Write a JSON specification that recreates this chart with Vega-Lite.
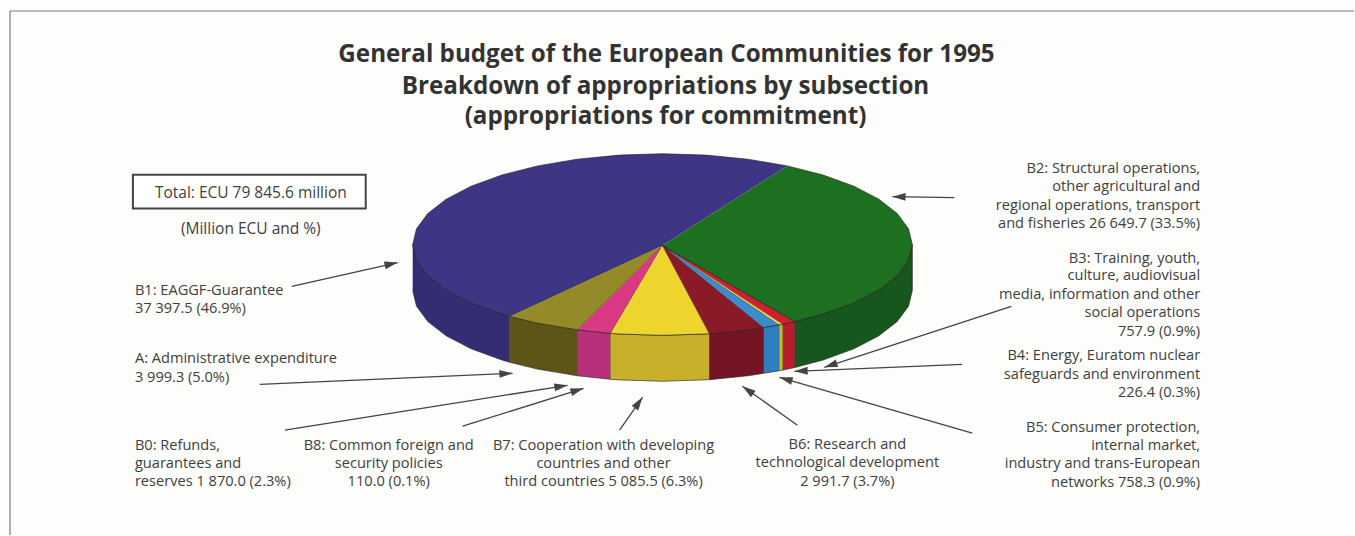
{"$schema":"https://vega.github.io/schema/vega-lite/v6.json","autosize":{"type":"fit","contains":"padding"},"width":1355,"height":536,"padding":0,"background":"#fdfdfc","view":{"stroke":null},
"datasets":{"pie":[
{"p":"B1 side","o":1,"x":413,"y":245},{"p":"B1 side","o":2,"x":416.8,"y":260.8},{"p":"B1 side","o":3,"x":428.1,"y":276.1},{"p":"B1 side","o":4,"x":446.5,"y":290.5},{"p":"B1 side","o":5,"x":471.5,"y":303.5},{"p":"B1 side","o":6,"x":502.3,"y":314.7},{"p":"B1 side","o":7,"x":510,"y":317},{"p":"B1 side","o":8,"x":510,"y":363},{"p":"B1 side","o":9,"x":502.3,"y":360.7},{"p":"B1 side","o":10,"x":471.5,"y":349.5},{"p":"B1 side","o":11,"x":446.5,"y":336.5},{"p":"B1 side","o":12,"x":428.1,"y":322.1},{"p":"B1 side","o":13,"x":416.8,"y":306.8},{"p":"B1 side","o":14,"x":413,"y":291},
{"p":"A side","o":1,"x":510,"y":317},{"p":"A side","o":2,"x":538,"y":323.8},{"p":"A side","o":3,"x":578,"y":330.5},{"p":"A side","o":4,"x":578,"y":376.5},{"p":"A side","o":5,"x":538,"y":369.8},{"p":"A side","o":6,"x":510,"y":363},
{"p":"B0 side","o":1,"x":578,"y":330.5},{"p":"B0 side","o":2,"x":611,"y":334},{"p":"B0 side","o":3,"x":611,"y":380},{"p":"B0 side","o":4,"x":578,"y":376.5},
{"p":"B7 side","o":1,"x":611,"y":334},{"p":"B7 side","o":2,"x":619.6,"y":334.6},{"p":"B7 side","o":3,"x":663,"y":336},{"p":"B7 side","o":4,"x":710,"y":334.4},{"p":"B7 side","o":5,"x":710,"y":380.4},{"p":"B7 side","o":6,"x":663,"y":382},{"p":"B7 side","o":7,"x":619.6,"y":380.6},{"p":"B7 side","o":8,"x":611,"y":380},
{"p":"B6 side","o":1,"x":710,"y":334.4},{"p":"B6 side","o":2,"x":748.5,"y":330.5},{"p":"B6 side","o":3,"x":764.4,"y":328},{"p":"B6 side","o":4,"x":764.4,"y":374},{"p":"B6 side","o":5,"x":748.5,"y":376.5},{"p":"B6 side","o":6,"x":710,"y":380.4},
{"p":"B5 side","o":1,"x":764.4,"y":328},{"p":"B5 side","o":2,"x":780,"y":325.4},{"p":"B5 side","o":3,"x":780,"y":371.4},{"p":"B5 side","o":4,"x":764.4,"y":374},
{"p":"B4 side","o":1,"x":780,"y":325.4},{"p":"B4 side","o":2,"x":783.6,"y":324.8},{"p":"B4 side","o":3,"x":783.6,"y":370.8},{"p":"B4 side","o":4,"x":780,"y":371.4},
{"p":"B3 side","o":1,"x":783.6,"y":324.8},{"p":"B3 side","o":2,"x":795.5,"y":322.2},{"p":"B3 side","o":3,"x":795.5,"y":368.2},{"p":"B3 side","o":4,"x":783.6,"y":370.8},
{"p":"B2 side","o":1,"x":795.5,"y":322.2},{"p":"B2 side","o":2,"x":823.7,"y":314.7},{"p":"B2 side","o":3,"x":854.5,"y":303.5},{"p":"B2 side","o":4,"x":879.5,"y":290.5},{"p":"B2 side","o":5,"x":897.9,"y":276.1},{"p":"B2 side","o":6,"x":909.2,"y":260.8},{"p":"B2 side","o":7,"x":913,"y":245},{"p":"B2 side","o":8,"x":913,"y":291},{"p":"B2 side","o":9,"x":909.2,"y":306.8},{"p":"B2 side","o":10,"x":897.9,"y":322.1},{"p":"B2 side","o":11,"x":879.5,"y":336.5},{"p":"B2 side","o":12,"x":854.5,"y":349.5},{"p":"B2 side","o":13,"x":823.7,"y":360.7},{"p":"B2 side","o":14,"x":795.5,"y":368.2},
{"p":"B1 top","o":1,"x":663,"y":246},{"p":"B1 top","o":2,"x":510,"y":317},{"p":"B1 top","o":3,"x":502.3,"y":314.7},{"p":"B1 top","o":4,"x":471.5,"y":303.5},{"p":"B1 top","o":5,"x":446.5,"y":290.5},{"p":"B1 top","o":6,"x":428.1,"y":276.1},{"p":"B1 top","o":7,"x":416.8,"y":260.8},{"p":"B1 top","o":8,"x":413,"y":245},{"p":"B1 top","o":9,"x":416.8,"y":229.2},{"p":"B1 top","o":10,"x":428.1,"y":213.9},{"p":"B1 top","o":11,"x":446.5,"y":199.5},{"p":"B1 top","o":12,"x":471.5,"y":186.5},{"p":"B1 top","o":13,"x":502.3,"y":175.3},{"p":"B1 top","o":14,"x":538,"y":166.2},{"p":"B1 top","o":15,"x":577.5,"y":159.5},{"p":"B1 top","o":16,"x":619.6,"y":155.4},{"p":"B1 top","o":17,"x":663,"y":154},{"p":"B1 top","o":18,"x":706.5,"y":155.4},{"p":"B1 top","o":19,"x":748.5,"y":159.5},{"p":"B1 top","o":20,"x":788,"y":166.2},
{"p":"A top","o":1,"x":663,"y":246},{"p":"A top","o":2,"x":578,"y":330.5},{"p":"A top","o":3,"x":538,"y":323.8},{"p":"A top","o":4,"x":510,"y":317},
{"p":"B0 top","o":1,"x":663,"y":246},{"p":"B0 top","o":2,"x":611,"y":334},{"p":"B0 top","o":3,"x":578,"y":330.5},
{"p":"B7 top","o":1,"x":663,"y":246},{"p":"B7 top","o":2,"x":710,"y":334.4},{"p":"B7 top","o":3,"x":663,"y":336},{"p":"B7 top","o":4,"x":619.6,"y":334.6},{"p":"B7 top","o":5,"x":611,"y":334},
{"p":"B6 top","o":1,"x":663,"y":246},{"p":"B6 top","o":2,"x":764.4,"y":328},{"p":"B6 top","o":3,"x":748.5,"y":330.5},{"p":"B6 top","o":4,"x":710,"y":334.4},
{"p":"B5 top","o":1,"x":663,"y":246},{"p":"B5 top","o":2,"x":780,"y":325.4},{"p":"B5 top","o":3,"x":764.4,"y":328},
{"p":"B4 top","o":1,"x":663,"y":246},{"p":"B4 top","o":2,"x":783.6,"y":324.8},{"p":"B4 top","o":3,"x":780,"y":325.4},
{"p":"B3 top","o":1,"x":663,"y":246},{"p":"B3 top","o":2,"x":795.5,"y":322.2},{"p":"B3 top","o":3,"x":783.6,"y":324.8},
{"p":"B2 top","o":1,"x":663,"y":246},{"p":"B2 top","o":2,"x":795.5,"y":322.2},{"p":"B2 top","o":3,"x":823.7,"y":314.7},{"p":"B2 top","o":4,"x":854.5,"y":303.5},{"p":"B2 top","o":5,"x":879.5,"y":290.5},{"p":"B2 top","o":6,"x":897.9,"y":276.1},{"p":"B2 top","o":7,"x":909.2,"y":260.8},{"p":"B2 top","o":8,"x":913,"y":245},{"p":"B2 top","o":9,"x":909.2,"y":229.2},{"p":"B2 top","o":10,"x":897.9,"y":213.9},{"p":"B2 top","o":11,"x":879.5,"y":199.5},{"p":"B2 top","o":12,"x":854.5,"y":186.5},{"p":"B2 top","o":13,"x":823.7,"y":175.3},{"p":"B2 top","o":14,"x":788,"y":166.2}
],
"arrows":[
{"n":"B2","x":955,"y":198,"x2":893,"y2":197,"a":271},
{"n":"B1","x":292,"y":287,"x2":398,"y2":263,"a":77.2},
{"n":"A","x":260,"y":385,"x2":513,"y2":374,"a":87.5},
{"n":"B0","x":285,"y":431,"x2":568,"y2":386,"a":81},
{"n":"B8","x":463,"y":427,"x2":584,"y2":389,"a":72.6},
{"n":"B7","x":620,"y":431,"x2":643,"y2":398,"a":34.9},
{"n":"B6","x":798,"y":426,"x2":743,"y2":387,"a":305.3},
{"n":"B5","x":973,"y":434,"x2":780,"y2":378,"a":286.2},
{"n":"B4","x":963,"y":365,"x2":795,"y2":372,"a":267.6},
{"n":"B3","x":1012,"y":307,"x2":825,"y2":368,"a":252}
],
"frame":[{"x":10,"y":11,"x2":1355,"y2":11},{"x":10,"y":11,"x2":10,"y2":536}],
"left":[
{"t":"B1: EAGGF-Guarantee","x":135,"y":291},{"t":"37 397.5 (46.9%)","x":135,"y":309},
{"t":"A: Administrative expenditure","x":135,"y":359},{"t":"3 999.3 (5.0%)","x":135,"y":378},
{"t":"B0: Refunds,","x":135,"y":446},{"t":"guarantees and","x":135,"y":464},{"t":"reserves 1 870.0 (2.3%)","x":135,"y":482}
],
"boxed":[
{"t":"Total: ECU 79 845.6 million","x":251,"y":192},{"t":"(Million ECU and %)","x":251,"y":228}
],
"center":[
{"t":"B8: Common foreign and","x":389,"y":446},{"t":"security policies","x":389,"y":464},{"t":"110.0 (0.1%)","x":389,"y":482},
{"t":"B7: Cooperation with developing","x":604,"y":446},{"t":"countries and other","x":604,"y":464},{"t":"third countries 5 085.5 (6.3%)","x":604,"y":482},
{"t":"B6: Research and","x":848,"y":445},{"t":"technological development","x":848,"y":463},{"t":"2 991.7 (3.7%)","x":848,"y":482}
],
"right":[
{"t":"B2: Structural operations,","x":1201,"y":168},{"t":"other agricultural and","x":1201,"y":186},{"t":"regional operations, transport","x":1201,"y":205},{"t":"and fisheries 26 649.7 (33.5%)","x":1201,"y":223},
{"t":"B3: Training, youth,","x":1201,"y":258},{"t":"culture, audiovisual","x":1201,"y":276},{"t":"media, information and other","x":1201,"y":295},{"t":"social operations","x":1201,"y":313},{"t":"757.9 (0.9%)","x":1201,"y":332},
{"t":"B4: Energy, Euratom nuclear","x":1201,"y":356},{"t":"safeguards and environment","x":1201,"y":375},{"t":"226.4 (0.3%)","x":1201,"y":393},
{"t":"B5: Consumer protection,","x":1201,"y":428},{"t":"internal market,","x":1201,"y":446},{"t":"industry and trans-European","x":1201,"y":464},{"t":"networks 758.3 (0.9%)","x":1201,"y":483}
],
"title":[
{"t":"General budget of the European Communities for 1995","x":667,"y":53},{"t":"Breakdown of appropriations by subsection","x":666,"y":85},{"t":"(appropriations for commitment)","x":666,"y":115}
]},
"layer":[
{"data":{"name":"frame"},"mark":{"type":"rule","color":"#7a7a7a","strokeWidth":1.2},"encoding":{"x":{"field":"x","type":"quantitative","scale":{"domain":[0,1355],"nice":false,"zero":false},"axis":null},"y":{"field":"y","type":"quantitative","scale":{"domain":[536,0],"nice":false,"zero":false},"axis":null},"x2":{"field":"x2"},"y2":{"field":"y2"}}},
{"data":{"name":"pie"},"mark":{"type":"line","stroke":"#1c1c1c","strokeWidth":0.6,"strokeJoin":"round"},"encoding":{
"x":{"field":"x","type":"quantitative"},"y":{"field":"y","type":"quantitative"},"order":{"field":"o","type":"quantitative"},"detail":{"field":"p"},
"fill":{"field":"p","type":"nominal","legend":null,"scale":{"domain":["B1 top","B1 side","B2 top","B2 side","A top","A side","B0 top","B0 side","B7 top","B7 side","B6 top","B6 side","B5 top","B5 side","B4 top","B4 side","B3 top","B3 side"],"range":["#3f3585","#352d74","#1c7020","#17561c","#958a2a","#5d5518","#d93a83","#b8307a","#eed52d","#c9b02c","#8a1a28","#751424","#3a8ccb","#2f7fbf","#e9d64a","#c9b52c","#d0202f","#b81d2c"]}}}},
{"data":{"name":"arrows"},"mark":{"type":"rule","color":"#444444","strokeWidth":1.3},"encoding":{"x":{"field":"x","type":"quantitative"},"y":{"field":"y","type":"quantitative"},"x2":{"field":"x2"},"y2":{"field":"y2"}}},
{"data":{"name":"arrows"},"mark":{"type":"point","filled":true,"color":"#444444","opacity":1,"size":700,"shape":"M0,0L0.3,1L-0.3,1Z"},"encoding":{"x":{"field":"x2","type":"quantitative"},"y":{"field":"y2","type":"quantitative"},"angle":{"field":"a","type":"quantitative","scale":null}}},
{"data":{"values":[{"x":133,"x2":366,"y":175,"y2":209}]},"mark":{"type":"rect","fill":"#ffffff","stroke":"#444444","strokeWidth":2},"encoding":{"x":{"field":"x","type":"quantitative"},"x2":{"field":"x2"},"y":{"field":"y","type":"quantitative"},"y2":{"field":"y2"}}},
{"data":{"name":"left"},"mark":{"type":"text","align":"left","baseline":"middle","dy":1,"font":"Open Sans","fontSize":14.6,"color":"#3f3f3f"},"encoding":{"x":{"field":"x","type":"quantitative"},"y":{"field":"y","type":"quantitative"},"text":{"field":"t"}}},
{"data":{"name":"boxed"},"mark":{"type":"text","align":"center","baseline":"middle","dy":1,"font":"Open Sans","fontSize":15.5,"color":"#3f3f3f"},"encoding":{"x":{"field":"x","type":"quantitative"},"y":{"field":"y","type":"quantitative"},"text":{"field":"t"}}},
{"data":{"name":"center"},"mark":{"type":"text","align":"center","baseline":"middle","dy":1,"font":"Open Sans","fontSize":14.6,"color":"#3f3f3f"},"encoding":{"x":{"field":"x","type":"quantitative"},"y":{"field":"y","type":"quantitative"},"text":{"field":"t"}}},
{"data":{"name":"right"},"mark":{"type":"text","align":"right","baseline":"middle","dy":1,"font":"Open Sans","fontSize":14.6,"color":"#3f3f3f"},"encoding":{"x":{"field":"x","type":"quantitative"},"y":{"field":"y","type":"quantitative"},"text":{"field":"t"}}},
{"data":{"name":"title"},"mark":{"type":"text","align":"center","baseline":"middle","dy":2,"font":"Open Sans","fontSize":24.2,"fontWeight":"bold","color":"#333333"},"encoding":{"x":{"field":"x","type":"quantitative"},"y":{"field":"y","type":"quantitative"},"text":{"field":"t"}}}
]}
